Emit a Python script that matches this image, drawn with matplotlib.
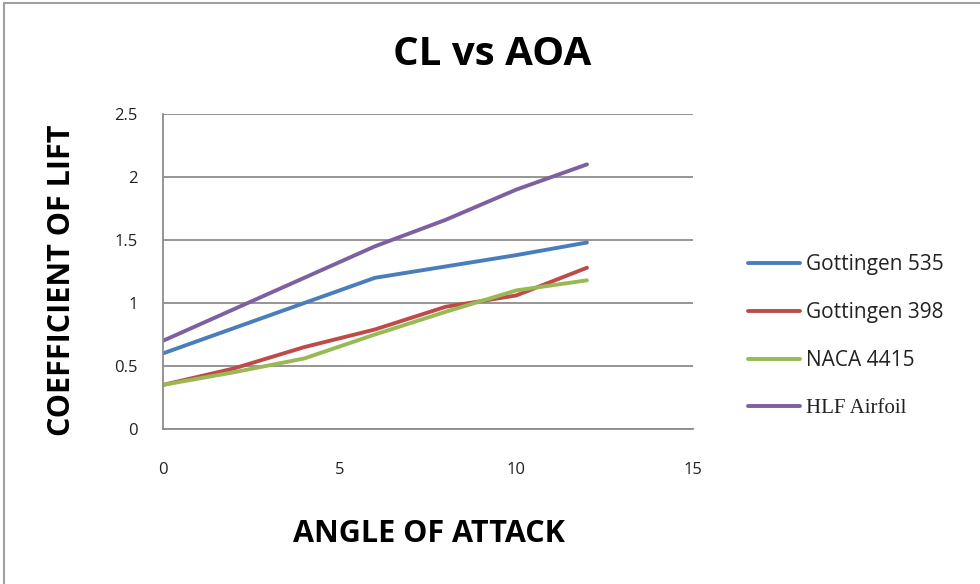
import matplotlib.pyplot as plt
from matplotlib.patches import Rectangle

# angle of attack (deg)
aoa = [0, 2, 4, 6, 8, 10, 12]

# lift coefficient per airfoil
cl_gott535 = [0.60, 0.80, 1.00, 1.20, 1.29, 1.38, 1.48]
cl_gott398 = [0.35, 0.48, 0.65, 0.79, 0.97, 1.06, 1.28]
cl_naca4415 = [0.35, 0.45, 0.56, 0.75, 0.93, 1.10, 1.18]
cl_hlf = [0.70, 0.95, 1.20, 1.45, 1.66, 1.90, 2.10]

labels = ['Gottingen 535', 'Gottingen 398', 'NACA 4415', 'HLF Airfoil']
colors = ['#4A7EBB', '#BE4B48', '#98B954', '#7D60A0']

plt.rcParams['font.family'] = ['Open Sans', 'DejaVu Sans']

fig = plt.figure(figsize=(9.8, 5.84), dpi=100)
ax = fig.add_axes([0.1663, 0.2654, 0.5408, 0.5394])

for ys, lab, c in zip([cl_gott535, cl_gott398, cl_naca4415, cl_hlf], labels, colors):
    ax.plot(aoa, ys, color=c, lw=2.8, label=lab, solid_capstyle='round')

ax.set_xlim(0, 15)
ax.set_ylim(0, 2.5)
ax.set_xticks([0, 5, 10, 15])
ax.set_yticks([0, 0.5, 1, 1.5, 2, 2.5])
ax.set_yticklabels(['0', '0.5', '1', '1.5', '2', '2.5'])
ax.tick_params(axis='both', length=0, labelsize=12, colors='#222222')
ax.tick_params(axis='x', pad=24)
ax.tick_params(axis='y', pad=18)
ax.grid(axis='y', color='#8c8c8c', lw=1.3)
ax.set_axisbelow(True)
for s in ['top', 'right']:
    ax.spines[s].set_visible(False)
for s in ['left', 'bottom']:
    ax.spines[s].set_color('#8c8c8c')
    ax.spines[s].set_linewidth(1.3)

fig.text(0.502, 0.906, 'CL vs AOA', ha='center', va='center', fontsize=29, fontweight='bold')
fig.text(0.4378, 0.0856, 'ANGLE OF ATTACK', ha='center', va='center', fontsize=22, fontweight='bold')
fig.text(0.063, 0.5205, 'COEFFICIENT OF LIFT', ha='center', va='center', rotation=90,
         fontsize=22, fontweight='bold')

leg = ax.legend(loc='upper left', bbox_to_anchor=(0.763, 0.565), bbox_transform=fig.transFigure,
                frameon=False, fontsize=15, handlelength=2.5, handletextpad=0.3, labelspacing=1.3,
                borderpad=0, borderaxespad=0)
for t in leg.get_texts():
    t.set_color('#222222')
leg.get_texts()[3].set_fontfamily('Liberation Serif')

# chart area border
fig.patches.append(Rectangle((0.004, -0.01), 1.2, 1.005, transform=fig.transFigure,
                             fill=False, edgecolor='#a0a0a0', lw=1.5))

fig.savefig('out.png', dpi=100)
